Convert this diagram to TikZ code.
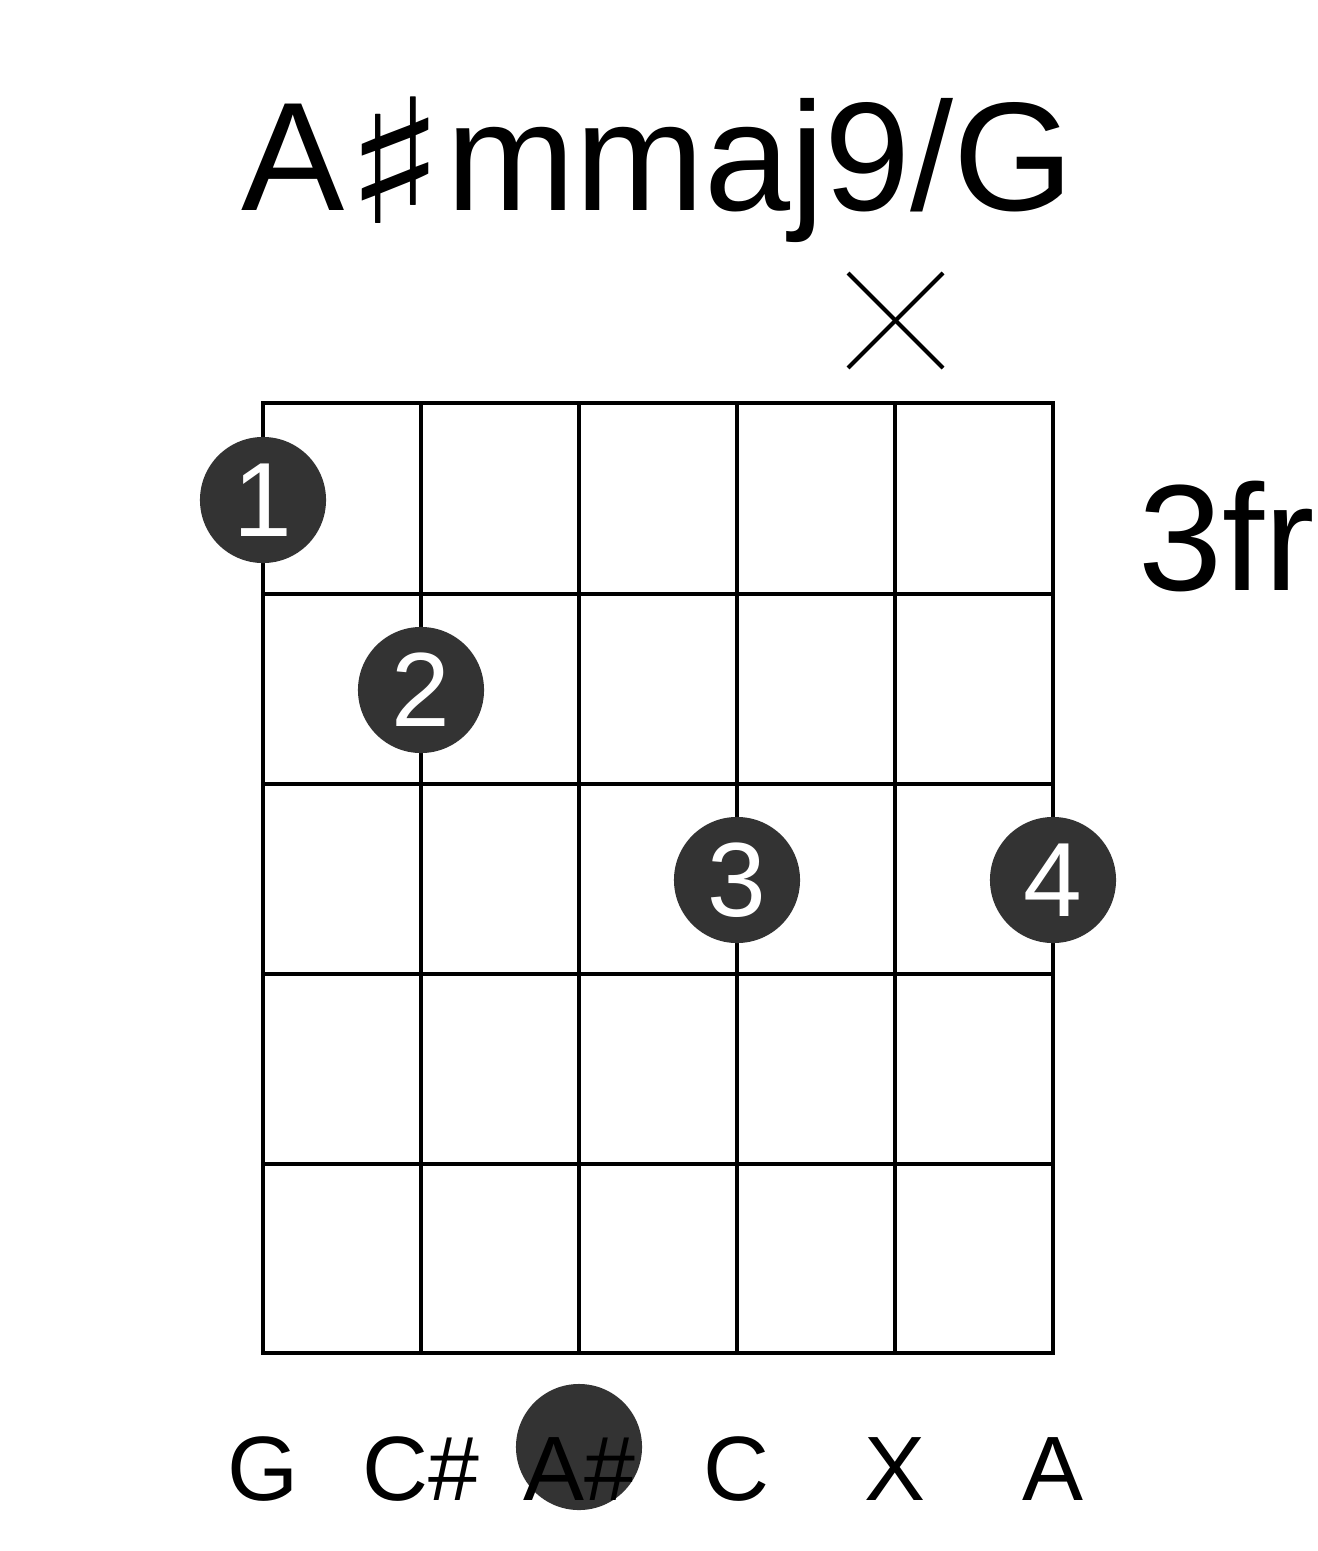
\documentclass[tikz,border=0pt]{standalone}
\usepackage{fontspec}
\setmainfont{Liberation Sans}
\newfontfamily\sharpfont{DejaVu Sans}
\usepackage{tikz}
\usetikzlibrary{positioning}
\definecolor{dotgray}{HTML}{333333}

\tikzset{
	fretline/.style={line width=1.15pt,black},
	fingerdot/.style={circle,fill=dotgray,minimum size=1.26cm,inner sep=0pt,text=white,font=\fontsize{30}{30}\selectfont},
	strname/.style={anchor=base,font=\fontsize{26}{26}\selectfont}
}

\begin{document}
\begin{tikzpicture}[x=0.01cm,y=-0.01cm]
			
			\useasboundingbox (0,0) rectangle (1317,1551);
			
			\node[anchor=base,font=\fontsize{44}{44}\selectfont] (T) at (658,210) {A\raisebox{-3.7pt}{\scalebox{1.36}[1.12]{\sharpfont ♯}}mmaj9/G};
			\node[anchor=base west,font=\fontsize{43}{43}\selectfont,inner sep=0pt] (F) at (1138,590) {3fr};
			
			% grid
			\draw[fretline] (263,403) rectangle (1053,1353);
			\foreach \x in {421,579,737,895}
				\draw[fretline] (\x,403) -- (\x,1353);
			\foreach \y in {594,784,974,1164}
				\draw[fretline] (263,\y) -- (1053,\y);
			
			% muted string
			\coordinate (X1) at (848,273);
			\coordinate (X2) at (943,368);
			\coordinate (X3) at (848,368);
			\coordinate (X4) at (943,273);
			\draw[line width=1.15pt] (X1) -- (X2);
			\draw[line width=1.15pt] (X3) -- (X4);
			
			% fingers
			\node[fingerdot] (D1) at (263,500) {1};
			\node[fingerdot] (D2) at (421,690) {2};
			\node[fingerdot] (D3) at (737,880) {3};
			\node[fingerdot] (D4) at (1053,880) {4};
			
			% root marker
			\node[circle,fill=dotgray,minimum size=1.26cm,inner sep=0pt] (R) at (579,1447) {};
			
			% string names
			\node[strname] (S1) at (263,1500) {G};
			\node[strname] (S2) at (421,1500) {C\#};
			\node[strname] (S3) at (579,1500) {A\#};
			\node[strname] (S4) at (737,1500) {C};
			\node[strname] (S5) at (895,1500) {X};
			\node[strname] (S6) at (1053,1500) {A};
			
		\end{tikzpicture}
\end{document}
